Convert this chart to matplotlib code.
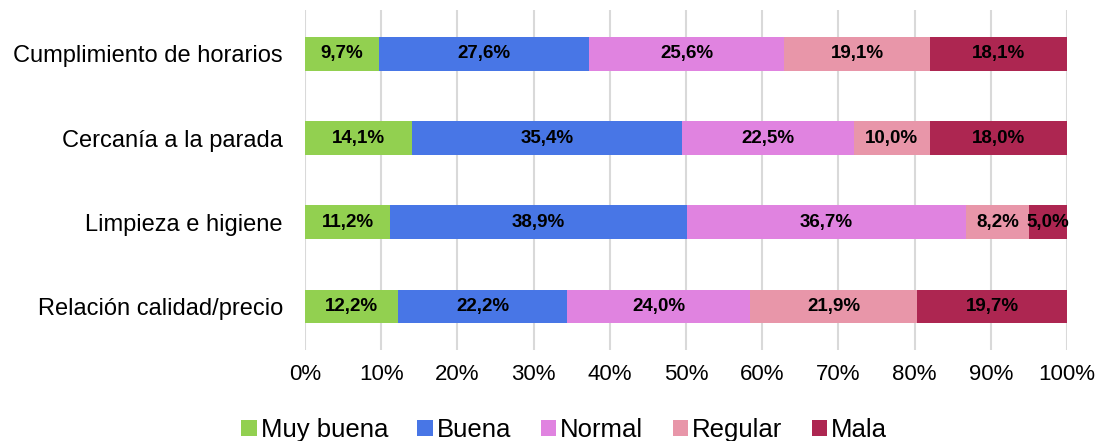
import matplotlib.pyplot as plt
import numpy as np

plt.rcParams['font.family'] = ['Liberation Sans', 'DejaVu Sans']

categories = ["Cumplimiento de horarios", "Cercanía a la parada",
              "Limpieza e higiene", "Relación calidad/precio"]
series = ["Muy buena", "Buena", "Normal", "Regular", "Mala"]
muy_buena = [9.7, 14.1, 11.2, 12.2]
buena = [27.6, 35.4, 38.9, 22.2]
normal = [25.6, 22.5, 36.7, 24.0]
regular = [19.1, 10.0, 8.2, 21.9]
mala = [18.1, 18.0, 5.0, 19.7]
colors = ["#92D050", "#4876E6", "#E083E0", "#E896A9", "#AD2651"]

values = [muy_buena, buena, normal, regular, mala]

fig = plt.figure(figsize=(10.99, 4.41), dpi=100)
ax = fig.add_axes([0.2775, 0.206, 0.6934, 0.771])

y = np.arange(len(categories))[::-1]
left = np.zeros(len(categories))
for name, vals, col in zip(series, values, colors):
    vals = np.array(vals)
    ax.barh(y, vals, left=left, height=0.4, color=col, label=name, zorder=3)
    for yi, l, v in zip(y, left, vals):
        ax.text(l + v / 2, yi, f"{v:.1f}%".replace(".", ","), ha="center", va="center",
                fontsize=13.5, fontweight="bold", color="black", zorder=4)
    left += vals

ax.set_xlim(0, 100)
ax.set_ylim(-0.52, 3.52)
ax.set_xticks(np.arange(0, 101, 10))
ax.set_xticklabels([f"{t}%" for t in range(0, 101, 10)], fontsize=16)
ax.set_yticks(y)
ax.set_yticklabels(categories, fontsize=17)
ax.tick_params(axis="both", length=0)
ax.tick_params(axis="x", pad=10)
ax.tick_params(axis="y", pad=16)
ax.grid(axis="x", color="#D9D9D9", linewidth=1.5, zorder=0)
for s in ax.spines.values():
    s.set_visible(False)

ax.legend(loc="center", bbox_to_anchor=(0.34, -0.235), ncol=5, frameon=False,
          fontsize=18.5, handlelength=0.6, handleheight=0.6, handletextpad=0.15,
          columnspacing=1.15, borderaxespad=0)

fig.savefig("out.png", dpi=100)
